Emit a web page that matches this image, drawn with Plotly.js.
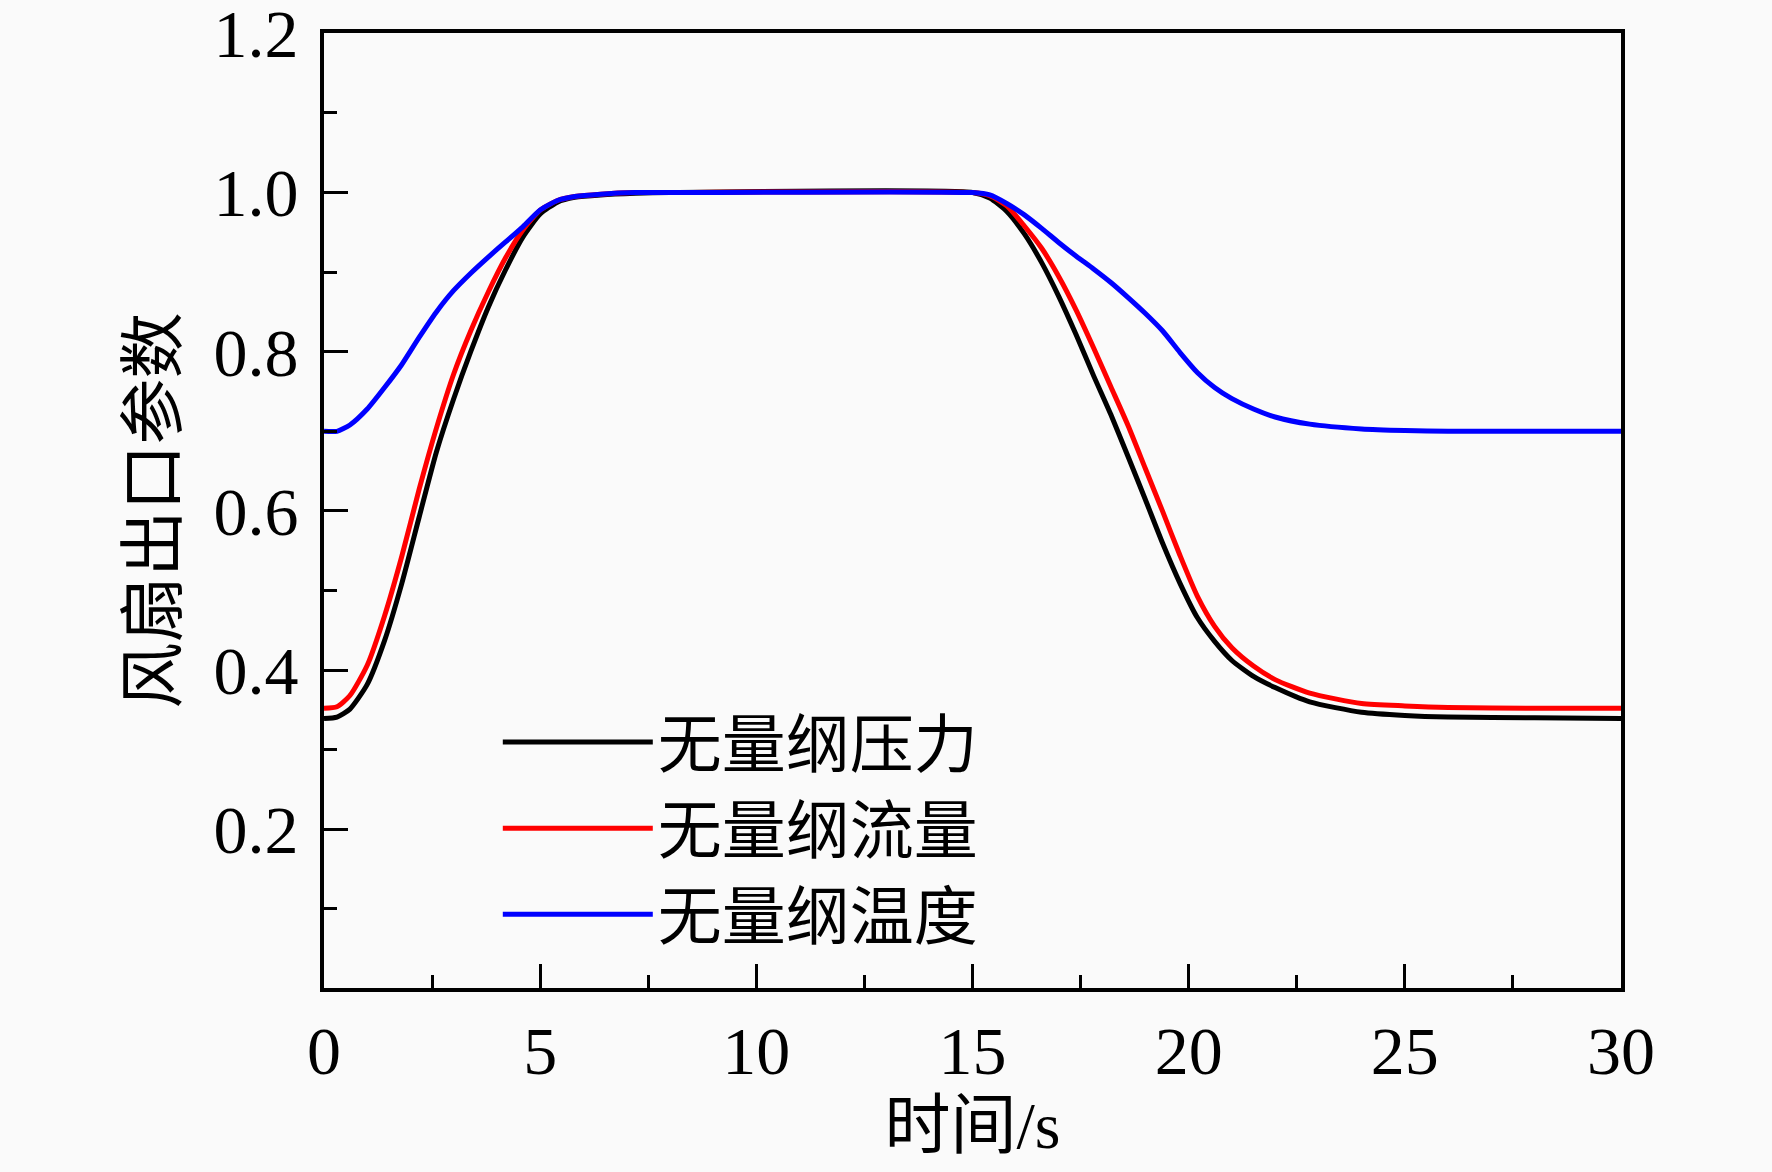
<!DOCTYPE html>
<html>
<head>
<meta charset="utf-8">
<script src="https://cdn.plot.ly/plotly-3.0.1.min.js"></script>
<style>
  html, body { margin: 0; padding: 0; background: #fafafa; }
  #graph { width: 1772px; height: 1172px; }
</style>
</head>
<body>
<div id="graph"></div>
<script>
// time axis (s)
let time = [0, 0.3, 0.6, 1.0, 1.4, 1.8, 2.2, 2.6, 3.0, 3.4, 3.8, 4.2, 4.6, 5.0, 5.4, 5.8, 6.4, 7.2, 8,
    15, 15.4, 15.8, 16.2, 16.6, 17.0, 17.4, 17.8, 18.2, 18.6, 19.0, 19.4, 19.8, 20.2, 20.6, 21.0, 21.5, 22, 22.8, 24, 25, 26, 28, 30];

// dimensionless pressure
let pressure = [0.339, 0.341, 0.351, 0.382, 0.437, 0.509, 0.592, 0.674, 0.741, 0.801, 0.856, 0.903, 0.944, 0.973, 0.988, 0.994, 0.997, 0.999, 1.0,
    1.0, 0.993, 0.976, 0.948, 0.912, 0.869, 0.821, 0.770, 0.721, 0.668, 0.614, 0.559, 0.509, 0.466, 0.436, 0.412, 0.392, 0.378, 0.360, 0.347, 0.343, 0.341, 0.340, 0.339];

// dimensionless flow
let flow = [0.352, 0.354, 0.368, 0.406, 0.468, 0.543, 0.627, 0.704, 0.772, 0.827, 0.875, 0.918, 0.953, 0.978, 0.990, 0.995, 0.998, 1.0, 1.0,
    1.0, 0.996, 0.983, 0.958, 0.930, 0.894, 0.852, 0.805, 0.756, 0.707, 0.653, 0.599, 0.544, 0.493, 0.455, 0.428, 0.405, 0.388, 0.371, 0.358, 0.355, 0.353, 0.352, 0.352];

// dimensionless temperature
let temperature = [0.700, 0.700, 0.708, 0.728, 0.755, 0.784, 0.818, 0.850, 0.877, 0.899, 0.919, 0.938, 0.957, 0.978, 0.990, 0.995, 0.998, 1.0, 1.0,
    1.0, 0.997, 0.986, 0.972, 0.955, 0.937, 0.920, 0.904, 0.887, 0.868, 0.848, 0.826, 0.799, 0.774, 0.755, 0.741, 0.728, 0.718, 0.709, 0.703, 0.701, 0.700, 0.700, 0.700];

let names = ["无量纲压力", "无量纲流量", "无量纲温度"];
let colors = ["#000000", "#ff0000", "#0000ff"];

let font = "'Liberation Serif', 'Times New Roman', 'Noto Sans CJK SC', serif";

function plot() {
    let series = [pressure, flow, temperature];
    let data = series.map(function (s, i) {
        return {
            x: time,
            y: s,
            name: names[i],
            type: "scatter",
            mode: "lines",
            line: { color: colors[i], width: 5, shape: "spline", smoothing: 0.6 }
        };
    });

    let layout = {
        width: 1772,
        height: 1172,
        paper_bgcolor: "#fafafa",
        plot_bgcolor: "#fafafa",
        margin: { l: 324, r: 151, t: 33, b: 184 },
        font: { family: font, size: 66, color: "#000" },
        showlegend: true,
        legend: {
            x: 0.134, y: 0.308,
            xanchor: "left", yanchor: "top",
            bgcolor: "rgba(0,0,0,0)",
            font: { family: font, size: 64 },
            itemwidth: 150,
            tracegroupgap: 0
        },
        xaxis: {
            range: [0, 30],
            dtick: 5,
            tick0: 0,
            showgrid: false,
            zeroline: false,
            showline: true,
            linecolor: "#000",
            linewidth: 4,
            mirror: true,
            ticks: "inside",
            ticklen: 24,
            tickwidth: 3,
            tickcolor: "#000",
            ticklabelstandoff: 0,
            ticklabeloverflow: "allow",
            minor: { dtick: 2.5, tick0: 0, ticks: "inside", ticklen: 13, tickwidth: 3, tickcolor: "#000", showgrid: false },
            tickfont: { family: font, size: 68 },
            title: { text: "时间/s", font: { family: font, size: 66 }, standoff: 14 }
        },
        yaxis: {
            range: [0.0005, 1.2005],
            tick0: 0,
            dtick: 0.2,
            tickformat: ".1f",
            showgrid: false,
            zeroline: false,
            showline: true,
            linecolor: "#000",
            linewidth: 4,
            mirror: true,
            ticks: "inside",
            ticklen: 24,
            tickwidth: 3,
            tickcolor: "#000",
            ticklabelstandoff: 8,
            ticklabeloverflow: "allow",
            minor: { dtick: 0.1, tick0: 0, ticks: "inside", ticklen: 13, tickwidth: 3, tickcolor: "#000", showgrid: false },
            tickfont: { family: font, size: 68 },
            title: { text: "风扇出口参数", font: { family: font, size: 66 }, standoff: 16 }
        }
    };

    Plotly.newPlot("graph", data, layout, { displayModeBar: false, staticPlot: true });
}

plot();
</script>
</body>
</html>
